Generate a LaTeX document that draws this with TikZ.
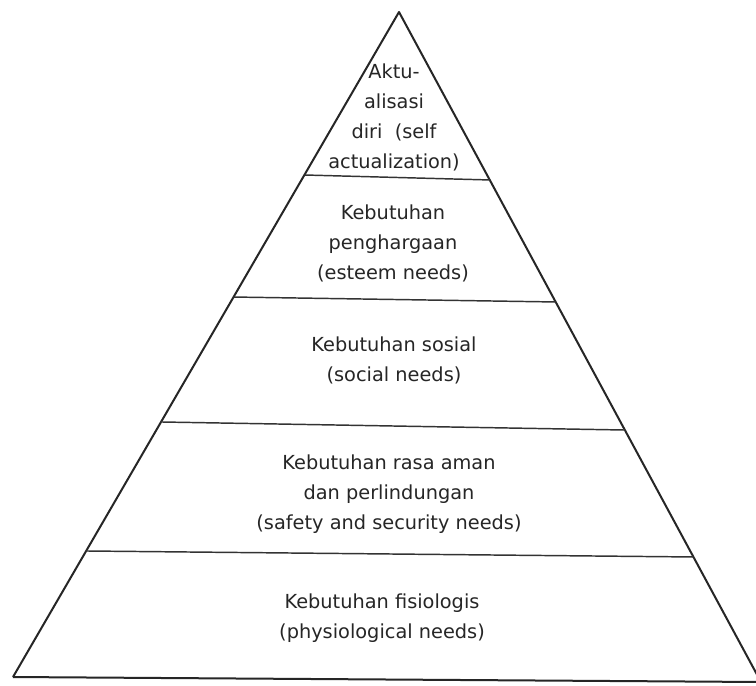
\documentclass[tikz,border=0pt]{standalone}
\usepackage{fontspec}
\setmainfont{DejaVu Sans}
\usetikzlibrary{calc}
\begin{document}
\begin{tikzpicture}[x=0.75pt,y=-0.75pt,
  edge/.style={line width=1.5pt,draw=black!85,line join=round},
  divider/.style={line width=1.1pt,draw=black!80},
  label/.style={align=center,inner sep=0pt,text=black!85,font={\fontsize{14.5}{22.5}\selectfont}}]
\useasboundingbox[fill=white] (0,0) rectangle (756,685);
\coordinate (A) at (399,12);
\coordinate (BL) at (13,677);
\coordinate (BR) at (761,682);
\draw[edge] (BL) -- (A) -- (BR);
\draw[edge] (BL) -- (BR);
\coordinate (l1) at ($(A)!0.2451!(BL)$);
\coordinate (r1) at ($(A)!0.2507!(BR)$);
\coordinate (l2) at ($(A)!0.4286!(BL)$);
\coordinate (r2) at ($(A)!0.4328!(BR)$);
\coordinate (l3) at ($(A)!0.6165!(BL)$);
\coordinate (r3) at ($(A)!0.6239!(BR)$);
\coordinate (l4) at ($(A)!0.8105!(BL)$);
\coordinate (r4) at ($(A)!0.8134!(BR)$);
\draw[divider] (l1) -- (r1);
\draw[divider] (l2) -- (r2);
\draw[divider] (l3) -- (r3);
\draw[divider] (l4) -- (r4);
\node[label] (t1) at (394,117) {Aktu-\\alisasi\\diri\ \ (self\\actualization)};
\node[label] (t2) at (393,243) {Kebutuhan\\penghargaan\\(esteem needs)};
\node[label] (t3) at (394,360) {Kebutuhan sosial\\(social needs)};
\node[label] (t4) at (389,494) {Kebutuhan rasa aman\\dan perlindungan\\(safety and security needs)};
\node[label] (t5) at (382,618) {Kebutuhan fisiologis\\(physiological needs)};
\end{tikzpicture}
\end{document}
